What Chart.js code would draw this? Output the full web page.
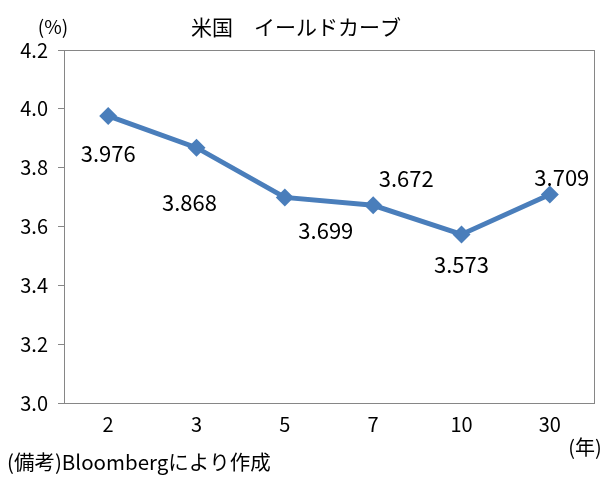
<!DOCTYPE html>
<html>
<head>
<meta charset="utf-8">
<script src="https://cdn.jsdelivr.net/npm/chart.js@4/dist/chart.umd.min.js"></script>
<style>
  body { margin: 0; background: #fff; }
  #wrap { width: 614px; height: 481px; }
</style>
</head>
<body>
<div id="wrap"><canvas id="yieldChart" width="614" height="481"></canvas></div>
<script>
const maturities = ["2", "3", "5", "7", "10", "30"];
const yields = [3.976, 3.868, 3.699, 3.672, 3.573, 3.709];
const yTicks = [3.0, 3.2, 3.4, 3.6, 3.8, 4.0, 4.2];

// label offsets from the point (px), like the moved labels in the original
const labelOffsets = [[0, 38], [-7, 55], [41, 33], [33, -27], [0, 30], [12, -17]];

const FONT = "'Noto Sans CJK JP', 'Noto Sans', sans-serif";
const lineColor = "#4A7EBB";

const extras = {
  id: "extras",
  afterDatasetsDraw(chart) {
    const ctx = chart.ctx;
    const area = chart.chartArea;
    ctx.save();
    // plot frame
    ctx.strokeStyle = "#868686";
    ctx.lineWidth = 1;
    ctx.strokeRect(Math.round(area.left) + 0.5, Math.round(area.top) + 0.5,
      Math.round(area.right - area.left), Math.round(area.bottom - area.top));

    // data labels
    ctx.fillStyle = "#000";
    ctx.font = "22px " + FONT;
    ctx.textAlign = "center";
    ctx.textBaseline = "middle";
    const meta = chart.getDatasetMeta(0);
    meta.data.forEach((pt, i) => {
      const off = labelOffsets[i];
      ctx.fillText(yields[i].toFixed(3), pt.x + off[0], pt.y + off[1]);
    });

    // titles / notes
    ctx.font = "21px " + FONT;
    ctx.fillText("米国　イールドカーブ", 296, 27);
    ctx.font = "19px " + FONT;
    ctx.fillText("(%)", 53, 27);
    ctx.font = "20px " + FONT;
    ctx.fillText("(年)", 585, 447);
    ctx.textAlign = "left";
    ctx.font = "20.5px " + FONT;
    ctx.fillText("(備考)Bloombergにより作成", 7, 462);
    ctx.restore();
  }
};

new Chart(document.getElementById("yieldChart"), {
  type: "line",
  data: {
    labels: maturities,
    datasets: [
      {
        data: yields,
        borderColor: lineColor,
        backgroundColor: lineColor,
        borderWidth: 5,
        pointStyle: "rectRot",
        pointRadius: 9,
        pointBorderWidth: 0,
        tension: 0,
        fill: false,
      },
    ],
  },
  options: {
    responsive: false,
    animation: false,
    layout: { padding: { left: 0, right: 20, top: 50, bottom: 38 } },
    plugins: {
      legend: { display: false },
      tooltip: { enabled: false },
    },
    scales: {
      x: {
        offset: true,
        grid: { display: false },
        border: { display: false },
        ticks: { color: "#000", font: { family: FONT, size: 20 }, padding: 1 },
        afterFit: (s) => { s.height = 40; },
      },
      y: {
        min: 3.0,
        max: 4.2,
        afterBuildTicks: (s) => { s.ticks = yTicks.map((v) => ({ value: v })); },
        grid: { drawOnChartArea: false, drawTicks: true, tickLength: 6, color: "#868686" },
        border: { display: false },
        ticks: {
          color: "#000",
          font: { family: FONT, size: 20 },
          padding: 10,
          callback: (v) => Number(v).toFixed(1),
        },
        afterFit: (s) => { s.width = 64; },
      },
    },
  },
  plugins: [extras],
});
</script>
</body>
</html>
